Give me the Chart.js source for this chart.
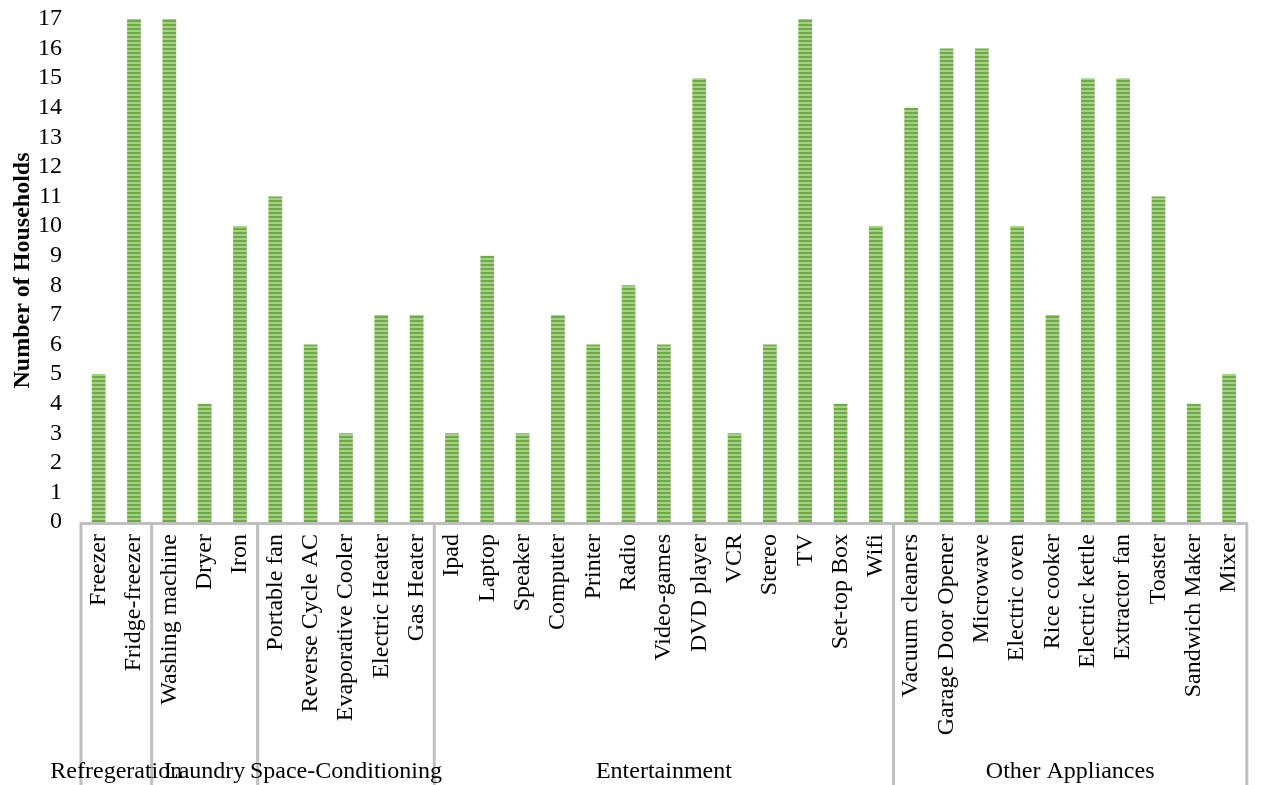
<!DOCTYPE html>
<html>
<head>
<meta charset="utf-8">
<script src="https://cdn.jsdelivr.net/npm/chart.js@4/dist/chart.umd.min.js"></script>
<style>
  html, body { margin: 0; padding: 0; background: #fff; }
  canvas { display: block; }
</style>
</head>
<body>
<canvas id="appliances" width="1270" height="785"></canvas>
<script>
const appliances = [
  "Freezer", "Fridge-freezer",
  "Washing machine", "Dryer", "Iron",
  "Portable fan", "Reverse Cycle AC", "Evaporative Cooler", "Electric Heater", "Gas Heater",
  "Ipad", "Laptop", "Speaker", "Computer", "Printer", "Radio", "Video-games",
  "DVD player", "VCR", "Stereo", "TV", "Set-top Box", "Wifi",
  "Vacuum cleaners", "Garage Door Opener", "Microwave", "Electric oven", "Rice cooker",
  "Electric kettle", "Extractor fan", "Toaster", "Sandwich Maker", "Mixer"
];
const households = [
  5, 17,
  17, 4, 10,
  11, 6, 3, 7, 7,
  3, 9, 3, 7, 6, 8, 6,
  15, 3, 6, 17, 4, 10,
  14, 16, 16, 10, 7,
  15, 15, 11, 4, 5
];
const groupNames = ["Refregeration", "Laundry", "Space-Conditioning", "Entertainment", "Other Appliances"];
const groupSizes = [2, 3, 5, 13, 10];

const serif = '"Liberation Serif", "Times New Roman", serif';

// striped fill for the bars
function stripes() {
  const c = document.createElement("canvas");
  c.width = 4;
  c.height = 4;
  const g = c.getContext("2d");
  g.fillStyle = "#6eab45";
  g.fillRect(0, 0, 4, 4);
  g.fillStyle = "#a6cf8a";
  g.fillRect(0, 2, 4, 2);
  return g.createPattern(c, "repeat");
}

const groupAxis = {
  id: "groupAxis",
  afterDraw(chart) {
    const { ctx, chartArea, scales } = chart;
    const x = scales.x;
    const step = x.getPixelForValue(1) - x.getPixelForValue(0);
    const top = chartArea.bottom;
    const bottom = chart.height;
    ctx.save();
    ctx.strokeStyle = "#bfbfbf";
    ctx.lineWidth = 3;
    ctx.beginPath();
    ctx.moveTo(chartArea.left - 1, top + 1.5);
    ctx.lineTo(chartArea.right + 1, top + 1.5);
    ctx.stroke();

    let start = 0;
    const edges = [x.getPixelForValue(0) - step / 2];
    groupSizes.forEach((n) => {
      start += n;
      edges.push(x.getPixelForValue(start - 1) + step / 2);
    });
    edges.forEach((ex) => {
      ctx.beginPath();
      ctx.moveTo(ex, top);
      ctx.lineTo(ex, bottom);
      ctx.stroke();
    });

    ctx.fillStyle = "#000";
    ctx.font = "24px " + serif;
    ctx.textAlign = "center";
    ctx.textBaseline = "alphabetic";
    groupNames.forEach((name, i) => {
      ctx.fillText(name, (edges[i] + edges[i + 1]) / 2, 778);
    });
    ctx.restore();
  }
};

new Chart(document.getElementById("appliances"), {
  type: "bar",
  data: {
    labels: appliances,
    datasets: [{
      label: "Number of Households",
      data: households,
      backgroundColor: stripes(),
      borderWidth: 0,
      barPercentage: 0.39,
      categoryPercentage: 1
    }]
  },
  options: {
    responsive: false,
    devicePixelRatio: 1,
    animation: false,
    layout: { padding: { top: 19, right: 4, left: 0, bottom: 0 } },
    plugins: {
      legend: { display: false },
      tooltip: { enabled: false }
    },
    scales: {
      x: {
        grid: { display: false, drawTicks: false },
        border: { display: false },
        ticks: {
          autoSkip: false,
          minRotation: 90,
          maxRotation: 90,
          padding: 12,
          color: "#000",
          font: { family: serif, size: 24 }
        },
        afterFit(scale) { scale.height = 263; }
      },
      y: {
        min: 0,
        max: 17,
        grid: { display: false, drawTicks: false },
        border: { display: false },
        ticks: {
          stepSize: 1,
          autoSkip: false,
          padding: 19,
          color: "#000",
          font: { family: serif, size: 24 }
        },
        title: {
          display: true,
          text: "Number of Households",
          color: "#000",
          padding: { top: 8, bottom: 0 },
          font: { family: serif, size: 24, weight: "bold" }
        },
        afterFit(scale) {
          scale.width = 81;
          scale.paddingTop = 0;
          scale.paddingBottom = 0;
        }
      }
    }
  },
  plugins: [groupAxis]
});
</script>
</body>
</html>
